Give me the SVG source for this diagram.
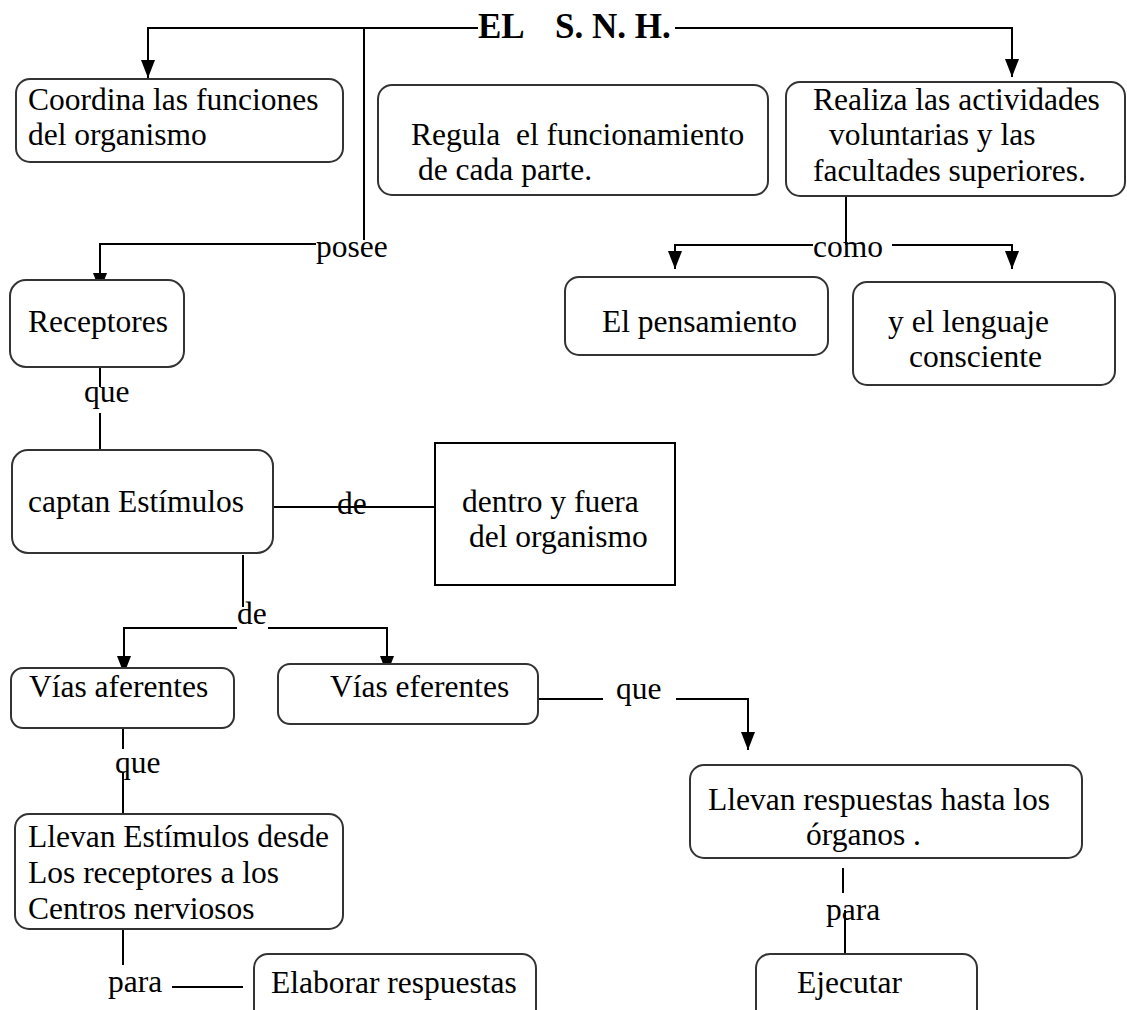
<svg xmlns="http://www.w3.org/2000/svg" width="1127" height="1010" viewBox="0 0 1127 1010">
<defs>
<style>
text{font-family:"Liberation Serif","Times New Roman",serif;font-size:31.5px;fill:#000}
.title{font-weight:bold;font-size:35px}
.box{fill:#fff;stroke:#333;stroke-width:2}
.rect{fill:#fff;stroke:#000;stroke-width:2}
.ln{fill:none;stroke:#000;stroke-width:2}
</style>
<marker id="ah" viewBox="0 0 18 14" refX="18" refY="7" markerWidth="18" markerHeight="14" markerUnits="userSpaceOnUse" orient="auto">
<path d="M0,0 L18,7 L0,14 z" fill="#000"/>
</marker>
</defs>
<rect width="1127" height="1010" fill="#fff"/>

<g id="connectors">
<path class="ln" d="M478,28 H148 V78" marker-end="url(#ah)"/>
<path class="ln" d="M675,28 H1012 V77" marker-end="url(#ah)"/>
<path class="ln" d="M364,28 V240"/>
<path class="ln" d="M316,244 H100 V291" marker-end="url(#ah)"/>
<path class="ln" d="M846,196 V245"/>
<path class="ln" d="M813,245 H675 V269" marker-end="url(#ah)"/>
<path class="ln" d="M892,245 H1012 V269" marker-end="url(#ah)"/>
<path class="ln" d="M100,365 V387 M100,413 V462"/>
<path class="ln" d="M268,507 H435"/>
<path class="ln" d="M243,555 V607"/>
<path class="ln" d="M237,628 H124 V674" marker-end="url(#ah)"/>
<path class="ln" d="M268,628 H387 V674" marker-end="url(#ah)"/>
<path class="ln" d="M531,699 H603"/>
<path class="ln" d="M676,699 H748 V750" marker-end="url(#ah)"/>
<path class="ln" d="M843,868 V893 M845,910 V965"/>
<path class="ln" d="M123,724 V749 M123,772 V821"/>
<path class="ln" d="M123,913 V965"/>
<path class="ln" d="M172,987 H243"/>
<text x="316" y="257">posee</text>
<text x="813" y="257">como</text>
<text x="84" y="402">que</text>
<text x="337" y="514">de</text>
<text x="237" y="624">de</text>
<text x="616" y="699">que</text>
<text x="115" y="773">que</text>
<text x="826" y="920">para</text>
<text x="108" y="992">para</text>
</g>

<g id="title">
<text class="title" y="38"><tspan x="478">EL</tspan><tspan x="555">S. N. H.</tspan></text>
</g>

<g id="coordina">
<rect class="box" x="16" y="79" width="327" height="83" rx="14"/>
<text x="28" y="110">Coordina las funciones</text>
<text x="28" y="145">del organismo</text>
</g>

<g id="regula">
<rect class="box" x="378" y="85" width="390" height="110" rx="14"/>
<text x="411" y="145" xml:space="preserve">Regula  el funcionamiento</text>
<text x="418" y="180">de cada parte.</text>
</g>

<g id="realiza">
<rect class="box" x="786" y="82" width="339" height="114" rx="14"/>
<text x="813" y="110">Realiza las actividades</text>
<text x="829" y="145">voluntarias y las</text>
<text x="813" y="181">facultades superiores.</text>
</g>

<g id="pensamiento">
<rect class="box" x="565" y="277" width="263" height="78" rx="14"/>
<text x="602" y="332">El pensamiento</text>
</g>

<g id="lenguaje">
<rect class="box" x="853" y="282" width="262" height="103" rx="14"/>
<text x="888" y="332">y el lenguaje</text>
<text x="909" y="367">consciente</text>
</g>

<g id="receptores">
<rect class="box" x="10" y="280" width="174" height="87" rx="16"/>
<text x="28" y="332">Receptores</text>
</g>

<g id="captan">
<rect class="box" x="12" y="450" width="261" height="103" rx="16"/>
<text x="28" y="512">captan Estímulos</text>
</g>

<g id="dentro">
<rect class="rect" x="435" y="443" width="240" height="142"/>
<text x="462" y="512">dentro y fuera</text>
<text x="469" y="547">del organismo</text>
</g>

<g id="aferentes">
<rect class="box" x="11" y="668" width="223" height="60" rx="12"/>
<text x="29" y="697">Vías aferentes</text>
</g>

<g id="eferentes">
<rect class="box" x="278" y="664" width="260" height="60" rx="12"/>
<text x="330" y="697">Vías eferentes</text>
</g>

<g id="llevan-respuestas">
<rect class="box" x="690" y="765" width="392" height="93" rx="14"/>
<text x="708" y="810">Llevan respuestas hasta los</text>
<text x="806" y="845">órganos .</text>
</g>

<g id="llevan-estimulos">
<rect class="box" x="15" y="814" width="328" height="115" rx="14"/>
<text x="28" y="847">Llevan Estímulos desde</text>
<text x="28" y="883">Los receptores a los</text>
<text x="28" y="919">Centros nerviosos</text>
</g>

<g id="elaborar">
<rect class="box" x="254" y="954" width="282" height="80" rx="14"/>
<text x="271" y="993">Elaborar respuestas</text>
</g>

<g id="ejecutar">
<rect class="box" x="756" y="954" width="221" height="80" rx="14"/>
<text x="797" y="993">Ejecutar</text>
</g>
</svg>
